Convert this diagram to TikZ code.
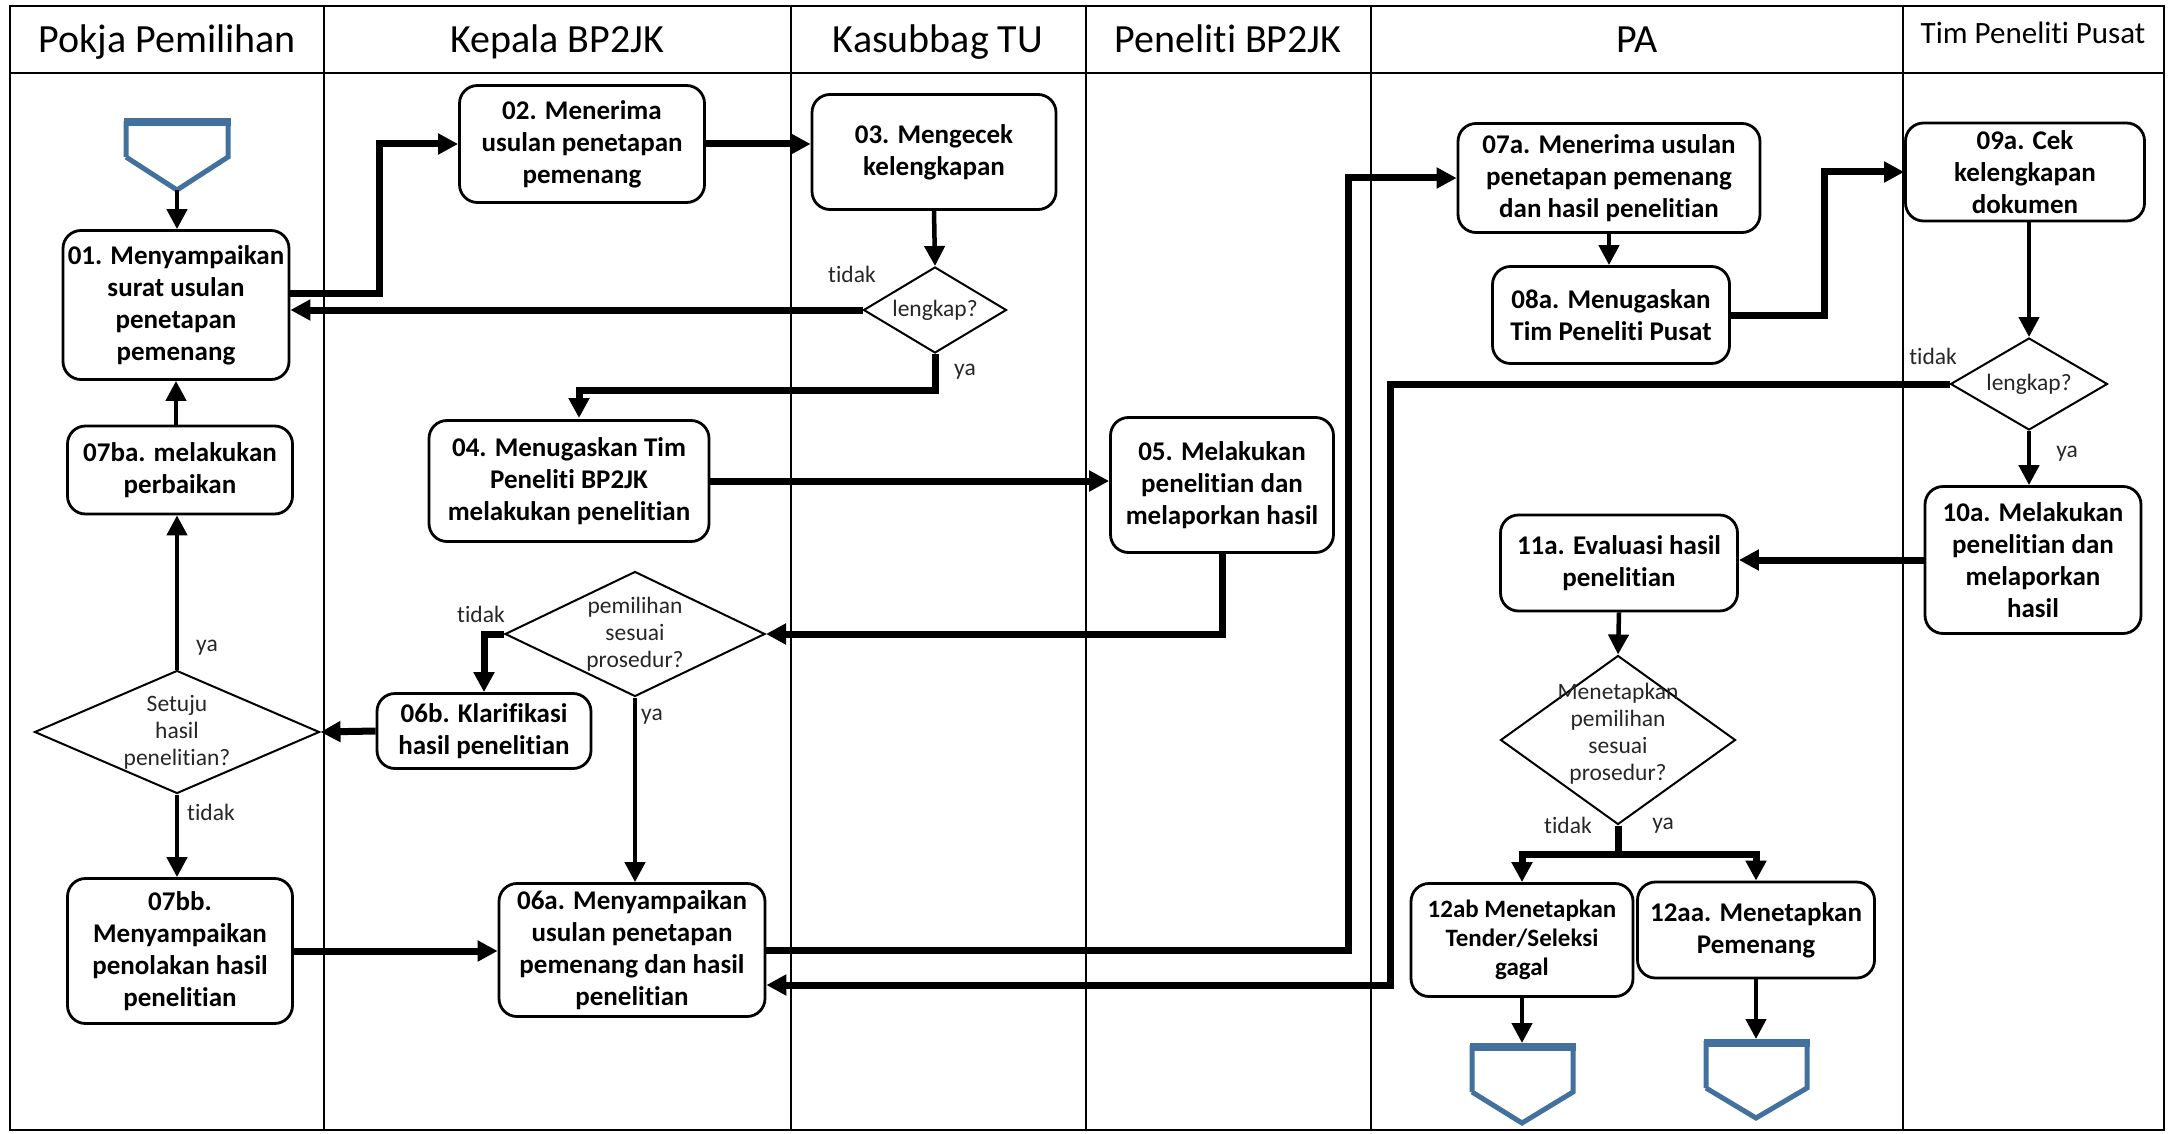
\documentclass[tikz,border=0pt]{standalone}
\usepackage{fontspec}
\setmainfont{Carlito}[Ligatures=NoCommon]
\usetikzlibrary{arrows.meta,shapes.geometric,calc}
\definecolor{pentblue}{HTML}{41719C}
\begin{document}
\begin{tikzpicture}[x=1pt,y=-1pt,
  box/.style={draw, fill=white, line width=2.8pt, rounded corners=18pt, align=center, inner sep=0pt, font=\bfseries\fontsize{27}{32}\selectfont},
  dec/.style={draw, fill=white, shape=diamond, line width=2pt, inner sep=0pt},
  dtxt/.style={align=center, inner sep=0pt, text=black!85, font=\fontsize{23.5}{27}\selectfont},
  lbl/.style={inner sep=0pt, text=black!85, font=\fontsize{23.5}{27}\selectfont},
  hdr/.style={inner sep=0pt, anchor=base, font=\fontsize{40}{46}\selectfont},
  thk/.style={line width=7pt, -{Triangle[length=20pt,width=20pt]}},
  thn/.style={line width=4.5pt, -{Triangle[length=20pt,width=20pt]}},
  lane/.style={line width=1.8pt},
  pent/.style={draw=pentblue, line width=5pt, line join=miter}
]
\useasboundingbox (0,0) rectangle (2173,1134);
% frame and lanes
\draw[lane] (10,6) rectangle (2164,1130);
\draw[line width=2.5pt] (10,73) -- (2164,73);
\foreach \lx in {324,791,1086,1371,1903} \draw[lane] (\lx,6) -- (\lx,1130);
\node[hdr] (h1) at (167,53) {Pokja Pemilihan};
\node[hdr] (h2) at (557,53) {Kepala BP2JK};
\node[hdr] (h3) at (938,53) {Kasubbag TU};
\node[hdr] (h4) at (1228,53) {Peneliti BP2JK};
\node[hdr] (h5) at (1637,53) {PA};
\node[hdr, font=\fontsize{31}{36}\selectfont] (h6) at (2033,44) {Tim Peneliti Pusat};

% terminators
\draw[pent] (126,157) -- (126,121) (228,121) -- (228,157) -- (177,190) -- (126,157);
\draw[pentblue, line width=8pt] (123.5,122.5) -- (230.5,122.5);
\coordinate (st) at (177,190);
\draw[pent] (1472,1092) -- (1472,1045) (1573,1045) -- (1573,1092) -- (1522,1123) -- (1472,1092);
\draw[pentblue, line width=8pt] (1469.5,1046.5) -- (1575.5,1046.5);
\coordinate (e1) at (1522,1043);
\draw[pent] (1706,1088) -- (1706,1041) (1807,1041) -- (1807,1088) -- (1756,1118) -- (1706,1088);
\draw[pentblue, line width=8pt] (1703.5,1042.5) -- (1809.5,1042.5);
\coordinate (e2) at (1756,1039);

% process boxes
\node[box, minimum width=226pt, minimum height=149pt] (n01) at (176,305) {01. Menyampaikan\\surat usulan\\penetapan\\pemenang};
\node[box, minimum width=245pt, minimum height=117pt] (n02) at (582,144) {02. Menerima\\usulan penetapan\\pemenang};
\node[box, minimum width=244pt, minimum height=115pt] (n03) at (934,152) {03. Mengecek\\kelengkapan};
\node[box, minimum width=280pt, minimum height=121pt] (n04) at (569,481) {04. Menugaskan Tim\\Peneliti BP2JK\\melakukan penelitian};
\node[box, minimum width=225pt, minimum height=88pt] (n07ba) at (180,470) {07ba. melakukan\\perbaikan};
\node[box, minimum width=223pt, minimum height=135pt] (n05) at (1222,485) {05. Melakukan\\penelitian dan\\melaporkan hasil};
\node[box, minimum width=214pt, minimum height=75pt] (n06b) at (484,731) {06b. Klarifikasi\\hasil penelitian};
\node[box, minimum width=225pt, minimum height=145pt] (n07bb) at (180,951) {07bb.\\Menyampaikan\\penolakan hasil\\penelitian};
\node[box, minimum width=266pt, minimum height=133pt] (n06a) at (632,950) {06a. Menyampaikan\\usulan penetapan\\pemenang dan hasil\\penelitian};
\node[box, minimum width=302pt, minimum height=109pt] (n07a) at (1609,178) {07a. Menerima usulan\\penetapan pemenang\\dan hasil penelitian};
\node[box, minimum width=237pt, minimum height=97pt] (n08a) at (1611,315) {08a. Menugaskan\\Tim Peneliti Pusat};
\node[box, minimum width=239pt, minimum height=98pt] (n09a) at (2025,172) {09a. Cek\\kelengkapan\\dokumen};
\node[box, minimum width=216pt, minimum height=147pt] (n10a) at (2033,560) {10a. Melakukan\\penelitian dan\\melaporkan\\hasil};
\node[box, minimum width=237pt, minimum height=96pt] (n11a) at (1619,563) {11a. Evaluasi hasil\\penelitian};
\node[box, minimum width=222pt, minimum height=113pt, font=\bfseries\fontsize{25}{29}\selectfont] (n12ab) at (1522,940) {12ab Menetapkan\\Tender/Seleksi\\gagal};
\node[box, minimum width=237pt, minimum height=96pt] (n12aa) at (1756,930) {12aa. Menetapkan\\Pemenang};

% decisions
\node[dec, minimum width=143pt, minimum height=86pt] (d1) at (935,310) {};
\node[dtxt] (d1t) at (d1.center) {lengkap?};
\node[dec, minimum width=260pt, minimum height=125pt] (d2) at (635,634) {};
\node[dtxt] (d2t) at (d2.center) {pemilihan\\sesuai\\prosedur?};
\node[dec, minimum width=285pt, minimum height=123pt] (d3) at (177,732) {};
\node[dtxt] (d3t) at (d3.center) {Setuju\\hasil\\penelitian?};
\node[dec, minimum width=157pt, minimum height=92pt] (d4) at (2029,384) {};
\node[dtxt] (d4t) at (d4.center) {lengkap?};
\node[dec, minimum width=235pt, minimum height=169pt] (d5) at (1618,740) {};
\node[dtxt] (d5t) at (1618,734) {Menetapkan\\pemilihan\\sesuai\\prosedur?};

% connectors
\draw[thn] (st) -- (st |- n01.north);
\draw[thk] (n01.east |- 0,293) -- (379,293) |- (n02.west);
\draw[thk] (n02.east) -- (n03.west |- n02.east);
\draw[thn] (n03.south) -- (d1.north);
\draw[thk] (d1.west) -- (n01.east |- d1.west);
\draw[thk] (d1.south) -- (935,390) -| (579,418);
\draw[thk] (n04.east) -- (n05.west |- n04.east);
\draw[thk] (n05.south) |- (d2.east);
\draw[thk] (d2.west) -| (n06b.north);
\draw[thn] (d2.south) -- (d2.south |- n06a.north);
\draw[thk] (n06b.west) -- (d3.east);
\draw[thn] (d3.north) -- (d3.north |- n07ba.south);
\draw[thn] (n01.south |- n07ba.north) -- (n01.south);
\draw[thn] (d3.south) -- (d3.south |- n07bb.north);
\draw[thk] (n07bb.east) -- (n06a.west |- n07bb.east);
\draw[thk] (n06a.east) -- (1348,950) |- (n07a.west);
\draw[thk] (d4.west) -- (1390,384) |- (n06a.east |- 0,985);
\draw[thn] (n07a.south) -- (n07a.south |- n08a.north);
\draw[thk] (n08a.east) -- (1824,315) |- (n09a.west);
\draw[thn] (d4.north |- n09a.south) -- (d4.north);
\draw[thn] (d4.south) -- (d4.south |- n10a.north);
\draw[thk] (n10a.west) -- (n11a.east |- n10a.west);
\draw[thn] (n11a.south) -- (d5.north);
\coordinate (sp) at (1618,854);
\draw[line width=7pt] (d5.south) -- (sp);
\draw[thk] (1621.5,854) -| (n12ab.north);
\draw[thk] (1614.5,854) -| (n12aa.north);
\draw[thn] (n12ab.south) -- (e1);
\draw[thn] (n12aa.south) -- (e2);

% labels
\node[lbl] (l1) at (852,274) {tidak};
\node[lbl] (l2) at (965,372) {ya};
\node[lbl] (l3) at (481,614) {tidak};
\node[lbl] (l4) at (652,717) {ya};
\node[lbl] (l5) at (207,648) {ya};
\node[lbl] (l6) at (211,812) {tidak};
\node[lbl] (l7) at (1933,356) {tidak};
\node[lbl] (l8) at (2067,454) {ya};
\node[lbl] (l9) at (1568,825) {tidak};
\node[lbl] (l10) at (1663,826) {ya};
\end{tikzpicture}
\end{document}
